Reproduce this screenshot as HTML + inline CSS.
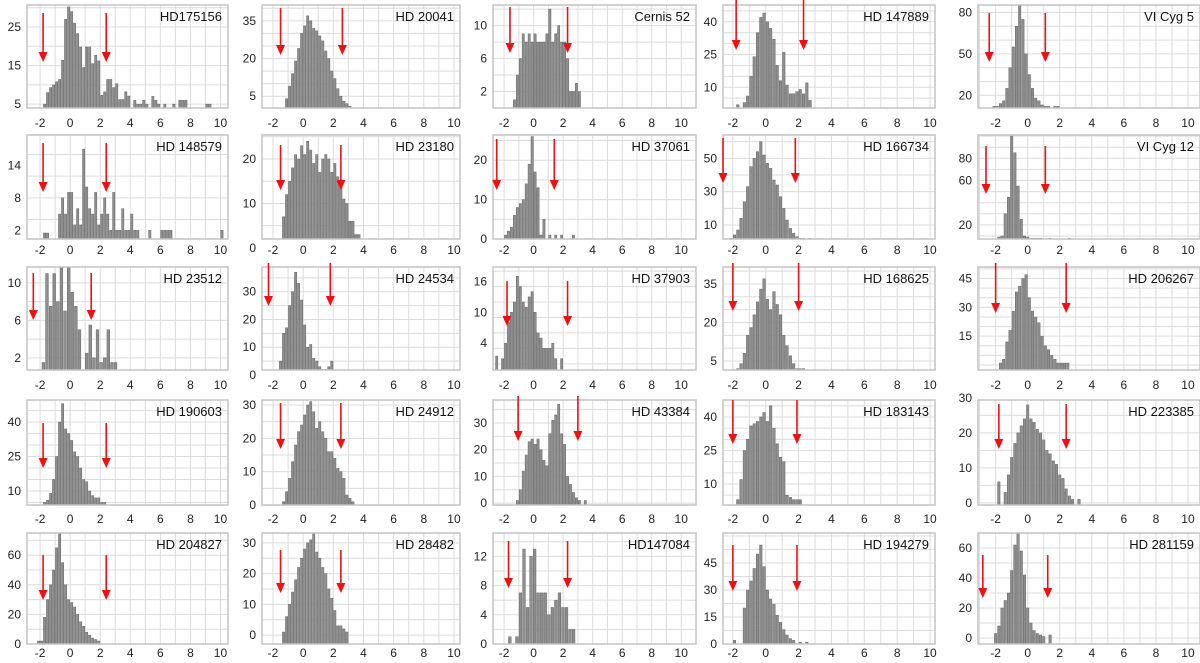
<!DOCTYPE html>
<html><head><meta charset="utf-8"><title>Histograms</title>
<style>
html,body{margin:0;padding:0;background:#fff;}
svg{display:block;font-family:"Liberation Sans",sans-serif;}
</style></head>
<body>
<svg id="fig" width="1200" height="663" viewBox="0 0 1200 663"></svg>
<script>
// ---- data ----
const titles=["HD175156","HD 20041","Cernis 52","HD 147889","VI Cyg 5",
"HD 148579","HD 23180","HD 37061","HD 166734","VI Cyg 12",
"HD 23512","HD 24534","HD 37903","HD 168625","HD 206267",
"HD 190603","HD 24912","HD 43384","HD 183143","HD 223385",
"HD 204827","HD 28482","HD147084","HD 194279","HD 281159"];
const counts1=[5,8,9.3,10,10.8,11.4,16.4,27,30.2,29,26,23.3,19.8,14.5,19.8,19.8,15.5,17.7,16.2,7.3,8.2,11.4,11.4,9.3,10.3,6.2,6.2,8.2,7.1,0,6,5,5,6,5,0,7,6,5,0,5,0,0,5,0,6,6,6,0,0,0,0,0,0,5,5];
const counts2=[4,9,14,19,24,30,33,37,35,32,31,29,27,23,20,15,12,8,5,3,2,1];
const counts3=[1,4,6,9,8,9,8,9,8,8,8,9,12,8,9,10,8,8,6,2,2,3,2];
const counts4=[2,0,3,6,15,24,35,42,44,40,37,32,20,13,26,11,7,7,8,9,7,12,4];
const counts5=[12,12,14,16,25,40,55,70,85,75,50,35,25,18,16,13,12,12,11,12,12];
const counts6=[1.5,1.5,0,0,0,5,8,5,9,9,3,6,3,17,10,6,5,9,3,5,8,5,2,9,2,2,6,2,2,5,2,2,0,0,0,2,0,0,0,2,2,2,2,0,0,0,0,0,0,0,0,0,0,0,0,0,0,0,0,2];
const counts7=[7,12,15,18,21,20,23,21,24,22,19,21,17,20,21,20,17,19,16,15,11,10,6,6,3,3];
const counts8=[1,2,3,6,8,9,10,14,19,26,17,13,1,5,0,1,0,1,0,1,0,0,0,1];
const counts9=[2,4,7,14,24,33,45,50,54,60,52,47,44,37,34,27,20,13,8,5,3,2,2,1,2];
const counts10=[9,10,30,45,100,85,55,25,10,9,8,8,8,8,7,7,8,7,7,7,7,7,8];
const counts11=[1.5,11,7.5,11,8,12,7,12,9,7.5,5,0,2.5,5.5,2,5,1.5,2,5,1.5,1.5];
const counts12=[1,5,15,17,25,30,37,33,27,18,10,11,6,5,3,2,2,3,5,1,1,1];
const counts13=[1.5,0,1,4,8,10,12,17,15,12,11,13,14,10,6,5,3,3,3,4,1,0,1];
const counts14=[2,4,8,15,18,23,28,33,37,29,25,32,27,23,15,11,7,4,2,2,2];
const counts15=[1,3,12,18,28,38,41,45,47,35,28,25,22,15,10,8,5,3,1,1,1,1];
const counts16=[4,5,6,9,15,25,40,48,37,35,32,27,25,20,15,14,10,8,7,7,5,5];
const counts17=[1,4,8,13,18,22,24,27,30,31,28,23,25,22,20,16,16,14,11,10,8,3,2,1];
const counts18=[1,5,12,18,23,24,22,24,20,16,14,26,31,33,37,26,22,10,7,4,2,1,0,1];
const counts19=[3,12,25,30,36,37,38,40,42,38,45,35,28,22,20,5,4,3,3,3];
const counts20=[6,0,3,8,13,17,20,22,24,28,24,23,21,20,18,15,14,12,11,8,7,4,2,1,0,1];
const counts21=[2,2,18,30,40,50,65,75,55,40,30,28,25,20,15,12,8,6,4,3,2];
const counts22=[1,6,10,14,18,22,25,28,30,31,33,27,25,22,20,15,12,8,3,3,2,1];
const counts23=[1,0,1,7,13,5,12,13,7,7,7,4,5,6,7,5,5,2,2];
const counts24=[2,0,0,20,30,35,42,50,55,43,30,25,22,16,12,8,5,3,2,0,1,0,1];
const counts25=[3,8,20,25,30,45,62,70,58,42,20,10,5,3,2,1,0,2];
const allCounts=[counts1,counts2,counts3,counts4,counts5,counts6,counts7,counts8,counts9,counts10,counts11,counts12,counts13,counts14,counts15,counts16,counts17,counts18,counts19,counts20,counts21,counts22,counts23,counts24,counts25];
const binStarts=[-1.8,-1.2,-1.4,-1.8,-2.2,-1.8,-1.4,-2.0,-2.2,-1.9,-1.9,-1.8,-2.6,-1.8,-1.8,-2.0,-1.4,-1.2,-1.8,-1.9,-2.2,-1.4,-1.73,-2.0,-2.1];
const binWidths=[0.2,0.2,0.2,0.2,0.2,0.2,0.2,0.2,0.2,0.2,0.24,0.2,0.2,0.2,0.2,0.2,0.2,0.2,0.2,0.2,0.2,0.2,0.24,0.2,0.2];
const yMins=[4,0.3,0,0.5,10.8,0.4,2,0,1.6,7.3,0.7,1.8,-1.2,1.5,-2.6,3.9,0,-0.7,0.6,-0.6,0,-2.9,0,0,-4];
const yMaxs=[30.7,41.3,12.5,47.7,85.4,19.6,25.4,26.4,64,101,11.7,38.9,18.8,41.6,51,49.6,31.5,38.6,47.6,29.4,75,33.2,15.2,61.7,70];
const yTicks=[[5,15,25],[5,20,35],[2,6,10],[10,25,40],[20,50,80],
[2,8,14],[0,10,20],[0,10,20],[10,30,50],[20,60,80],
[2,6,10],[0,10,20,30],[4,10,16],[5,20,35],[15,30,45],
[10,25,40],[0,10,20,30],[0,10,20,30],[10,25,40],[0,10,20,30],
[0,20,40,60],[0,10,20,30],[0,4,8,12],[0,15,30,45],[0,20,40,60]];
const gridSteps=[5,5,2,5,10,4,5,5,10,10,2,5,3,5,5,5,5,5,5,5,10,5,2,7.5,10];
const arrowLo=[-1.8,-1.5,-1.6,-1.8,-2.4,-1.8,-1.5,-2.5,-2.6,-2.6,-2.45,-2.3,-1.8,-2.0,-2.0,-1.8,-1.5,-1.05,-2.0,-1.8,-1.8,-1.5,-1.7,-2.0,-2.8];
const arrowHi=[2.4,2.6,2.3,2.3,1.1,2.4,2.5,1.4,1.8,1.1,1.4,1.8,2.3,2.0,2.4,2.4,2.5,3.0,1.9,2.4,2.4,2.5,2.3,1.9,1.25];
const xTickVals=[-2,0,2,4,6,8,10];
// ---- layout ----
const colX=[[27,228],[262,460],[493,696],[723,935],[978,1200]];
const colDom=[[-2.87,10.5],[-2.73,10.4],[-2.75,11.0],[-2.6,10.3],[-3.1,10.75]];
const rowY=[[5,108],[135,239],[267,370],[400,505],[533,644]];
const rowLabelY=[127,254,389,523,657];
const arrowY=[[13,62],[8,55],[7,53],[0,50],[13,62],[143,192],[145,190],[139,190],[138,183],[146,194],
[273,320],[263,306],[281,326],[263,311],[263,313],[423,468],[403,449],[396,441],[400,444],[404,449],
[555,600],[550,593],[541,588],[545,591],[555,598]];
const NS="http://www.w3.org/2000/svg";
const svg=document.getElementById('fig');
function mk(tag,attrs,parent){const e=document.createElementNS(NS,tag);for(const k in attrs)e.setAttribute(k,attrs[k]);parent.appendChild(e);return e;}
for(let i=0;i<25;i++){
  const r=Math.floor(i/5),c=i%5;
  const [x0,x1]=colX[c],[y0,y1]=rowY[r],[d0,d1]=colDom[c];
  const xs=v=>x0+(v-d0)/(d1-d0)*(x1-x0);
  const ys=v=>y1-(v-yMins[i])/(yMaxs[i]-yMins[i])*(y1-y0);
  const g=mk('g',{},svg);
  
  
  const bg=mk('rect',{x:x0,y:y0,width:x1-x0,height:y1-y0,fill:'#fff'},g);
  
  
  for(let v=Math.ceil(d0);v<=d1;v++){
    const l=mk('line',{x1:xs(v),x2:xs(v),y1:y0,y2:y1,stroke:'#dcdcdc','stroke-width':1},g);
    
    
  }
  const gs=gridSteps[i];
  for(let v=Math.ceil(yMins[i]/gs)*gs;v<=yMaxs[i];v+=gs){
    const l=mk('line',{x1:x0,x2:x1,y1:ys(v),y2:ys(v),stroke:'#dcdcdc','stroke-width':1},g);
    
    
  }
  const cnt=allCounts[i],bw=binWidths[i];
  for(let k=0;k<cnt.length;k++){
    const v=cnt[k]; if(v<=0) continue;
    const xa=xs(binStarts[i]+k*bw), xb=xs(binStarts[i]+(k+1)*bw);
    const top=Math.max(y0,ys(v));
    const w=xb-xa;
    const b=mk('rect',{x:xa+w*0.12,y:top,width:Math.max(1,w*0.76),height:Math.max(0,y1-top),fill:'#8e8e8e',stroke:'#666','stroke-width':0.5},g);
    
    
  }
  const fr=mk('rect',{x:x0,y:y0,width:x1-x0,height:y1-y0,fill:'none',stroke:'#c4c4c4','stroke-width':1.5},g);
  
  
  for(const v of xTickVals){
    const t=mk('text',{x:xs(v),y:rowLabelY[r],'font-size':12,'text-anchor':'middle',fill:'#222'},g);
    t.textContent=v;
    
    
  }
  for(const v of yTicks[i]){
    const t=mk('text',{x:x0-6,y:ys(v)+4,'font-size':12,'text-anchor':'end',fill:'#222'},g);
    t.textContent=v;
    
    
  }
  const tt=mk('text',{x:x1-6,y:y0+16,'font-size':13,'text-anchor':'end',fill:'#111'},g);
  tt.textContent=titles[i];
  
  
  for(const av of [arrowLo[i],arrowHi[i]]){
    const ax=xs(av),[ta,tb]=arrowY[i];
    const a=mk('g',{},g);
    
    
    mk('line',{x1:ax,x2:ax,y1:ta,y2:tb-9,stroke:'#ee1111','stroke-width':1.6},a);
    mk('polygon',{points:`${ax-4.5},${tb-10} ${ax+4.5},${tb-10} ${ax},${tb}`,fill:'#ee1111'},a);
  }
}
</script>
</body></html>
